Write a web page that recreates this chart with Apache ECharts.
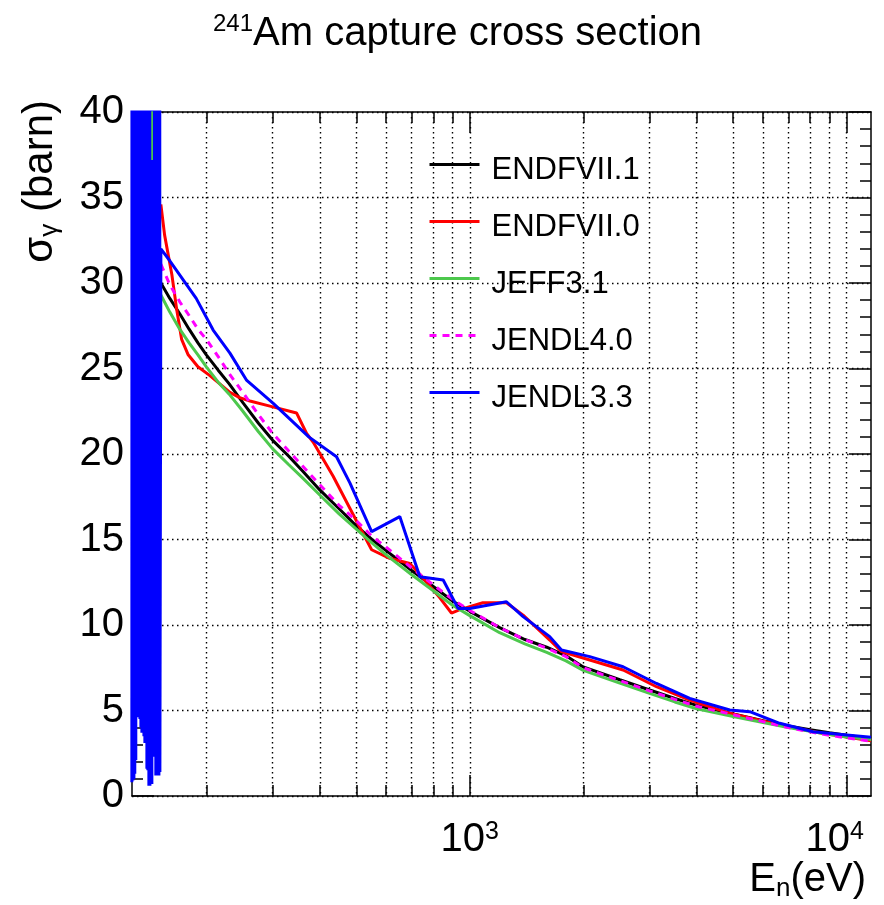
<!DOCTYPE html>
<html>
<head>
<meta charset="utf-8">
<title>241Am capture cross section</title>
<script src="https://cdn.jsdelivr.net/npm/echarts@6/dist/echarts.min.js"></script>
<style>
  html, body { margin: 0; padding: 0; background: #fff; }
  #chart { width: 884px; height: 905px; }
</style>
</head>
<body>
<div id="chart"></div>
<script>
// axis range (eV / barn)
const xMin = 127;
const xMax = 11600;
const yMin = 0;
const yMax = 40;
const yStep = 5;
const xMajorTicks = [1000, 10000];
const xMinorTicks = [200, 300, 400, 500, 600, 700, 800, 900, 2000, 3000, 4000, 5000, 6000, 7000, 8000, 9000];

// common energy grid (eV) for the smooth evaluations
const energy = [151.5, 160, 170, 180, 190, 200, 215, 230, 250, 275, 300, 330, 360, 400, 450, 500, 550, 600, 700, 800, 900,
  1000, 1200, 1400, 1600, 1800, 2000, 2500, 3000, 3500, 4000, 5000, 6000, 7000, 8000, 9000, 10000, 11600];
const endf71 = [30.0, 29.1, 28.2, 27.3, 26.5, 25.8, 24.9, 24.1, 23.0, 21.8, 20.8, 19.9, 19.0, 17.9, 16.8, 15.8, 15.0, 14.35, 13.2, 12.25, 11.4,
  10.8, 9.85, 9.15, 8.7, 8.2, 7.55, 6.8, 6.2, 5.7, 5.3, 4.8, 4.4, 4.1, 3.88, 3.7, 3.55, 3.35];
const jeff31 = [29.3, 28.3, 27.3, 26.5, 25.8, 25.1, 24.2, 23.5, 22.5, 21.3, 20.3, 19.4, 18.6, 17.6, 16.5, 15.6, 14.8, 14.1, 12.95, 12.0, 11.15,
  10.55, 9.55, 8.9, 8.4, 7.9, 7.35, 6.6, 6.0, 5.5, 5.1, 4.65, 4.3, 4.0, 3.78, 3.6, 3.45, 3.3];
const jendl40 = [31.1, 29.9, 28.9, 28.1, 27.3, 26.7, 25.7, 24.7, 23.6, 22.3, 21.2, 20.2, 19.3, 18.2, 17.0, 16.1, 15.2, 14.55, 13.35, 12.35, 11.5,
  10.85, 9.85, 9.15, 8.65, 8.15, 7.5, 6.75, 6.15, 5.65, 5.25, 4.75, 4.35, 4.0, 3.75, 3.55, 3.4, 3.2];

// ENDF/B-VII.0 (own energy points)
const endf70Energy = [151.5, 155, 162, 167, 172, 179, 190, 204, 231, 245, 261, 295, 347, 369, 384, 434, 511, 549, 613, 693, 728, 832, 894, 941,
  1083, 1251, 1385, 1630, 1751, 2081, 2551, 3128, 3833, 4895, 6642, 8600, 10000, 11600];
const endf70 = [34.6, 32.8, 30.5, 28.4, 26.7, 25.8, 25.1, 24.6, 23.6, 23.3, 23.1, 22.8, 22.4, 21.2, 20.7, 18.7, 15.7, 14.4, 13.9, 13.6, 13.1, 11.6, 10.7, 10.9,
  11.3, 11.3, 10.58, 9.12, 8.44, 7.95, 7.37, 6.39, 5.61, 4.84, 4.15, 3.67, 3.45, 3.23];

// JENDL3.3: resolved resonances below ~150 eV, then the smooth part
const jendl33ResEnergy = [126.9, 127.3, 127.7, 128.1, 128.5, 128.9, 129.2, 129.6, 130.0, 130.4, 130.8, 131.2, 131.6, 132.0, 132.4,
  132.9, 133.3, 133.7, 134.1, 134.5, 134.9, 135.3, 135.7, 136.1, 136.6, 137.0, 137.4, 137.8, 138.2, 138.7, 139.1, 139.5, 139.9,
  140.4, 140.8, 141.2, 141.7, 142.1, 142.5, 143.0, 143.4, 143.8, 144.3, 144.7, 145.2, 145.6, 146.0, 146.5, 146.9, 147.4, 147.8,
  148.3, 148.7, 149.2, 149.7, 150.1, 150.6];
const jendl33Res = [0.8, 420, 0.9, 180, 1.0, 650, 1.3, 240, 2.1, 900, 5.0, 310, 5.1, 150, 4.6, 560, 4.5, 270, 4.0, 820, 3.7, 190,
  3.7, 480, 3.5, 130, 3.1, 700, 3.1, 260, 1.6, 380, 1.5, 950, 0.6, 210, 0.6, 520, 0.7, 340, 0.7, 160, 2.3, 610, 2.3, 290, 2.4, 450,
  1.2, 860, 1.2, 230, 1.3, 390, 1.2, 170, 1.4];
const jendl33Energy = [151.5, 160, 188, 208.5, 231, 256, 301, 374, 443, 481, 549, 652, 737, 850, 931, 1000, 1251, 1385, 1630, 1751,
  2081, 2551, 3128, 3833, 4895, 5530, 6642, 8140, 10000, 11600];
const jendl33 = [32.0, 31.3, 29.1, 27.25, 25.9, 24.3, 22.96, 21.0, 19.84, 18.3, 15.46, 16.34, 12.82, 12.63, 10.97, 10.97, 11.36, 10.49, 9.32, 8.54,
  8.15, 7.56, 6.58, 5.71, 5.03, 4.93, 4.25, 3.76, 3.57, 3.43];

// JEFF3.1 resonance peak sticking out above the blue band
const jeff31ResEnergy = [143.5, 143.6, 143.7];
const jeff31Res = [37.2, 400, 37.2];

const names = ['ENDFVII.1', 'ENDFVII.0', 'JEFF3.1', 'JENDL4.0', 'JENDL3.3'];
const colors = ['#000000', '#ff0000', '#4dc84d', '#ff00ff', '#0000ff'];

const font = 'Liberation Sans';
const dotted = { color: '#000', width: 1.4, type: [1.5, 3.5] };
const frame = { color: '#000', width: 1.5 };

function pairs(xs, ys) {
  return xs.map((x, i) => [x, ys[i]]);
}

function curve(name, data, color, extra) {
  return Object.assign({
    name: name,
    type: 'line',
    data: data,
    symbol: 'none',
    showSymbol: false,
    clip: true,
    silent: true,
    lineStyle: { color: color, width: 3 },
    itemStyle: { color: color }
  }, extra || {});
}

function xLayer(position, ticks, tickLen, showLine, showGrid, label) {
  return {
    type: 'log',
    logBase: 10,
    min: xMin,
    max: xMax,
    position: position,
    axisLine: { show: showLine, onZero: false, lineStyle: frame },
    axisTick: { show: true, inside: true, length: tickLen, customValues: ticks, lineStyle: frame },
    minorTick: { show: false },
    axisLabel: label || { show: false },
    splitLine: { show: showGrid, lineStyle: dotted },
    minorSplitLine: { show: false }
  };
}

function yLayer(position, withLabels) {
  return {
    type: 'value',
    min: yMin,
    max: yMax,
    interval: yStep,
    position: position,
    axisLine: { show: true, onZero: false, lineStyle: frame },
    axisTick: { show: true, inside: true, length: 22, lineStyle: frame },
    minorTick: { show: true, splitNumber: 5, length: 11, lineStyle: frame },
    axisLabel: withLabels
      ? { show: true, fontSize: 40, fontFamily: font, color: '#000', margin: 8 }
      : { show: false },
    splitLine: { show: withLabels, lineStyle: dotted },
    minorSplitLine: { show: false }
  };
}

const xLabel = {
  show: true,
  customValues: xMajorTicks,
  margin: 24,
  formatter: function (v) {
    const p = Math.round(Math.log10(v));
    return '{b|10}{s|' + p + '}' + (v >= 10000 ? '{p| }' : '');
  },
  rich: {
    b: { fontSize: 40, fontFamily: font, color: '#000', lineHeight: 40 },
    s: { fontSize: 25, fontFamily: font, color: '#000', lineHeight: 25, verticalAlign: 'top' },
    p: { fontSize: 24, width: 24 }
  }
};

const myChart = echarts.init(document.getElementById('chart'));
const option = {
  animation: false,
  backgroundColor: '#ffffff',
  title: {
    text: '{s|241}{t|Am capture cross section}',
    left: 213,
    top: 12,
    padding: 0,
    textStyle: {
      fontWeight: 'normal',
      rich: {
        t: { fontSize: 40, fontFamily: font, color: '#000', lineHeight: 44, fontWeight: 'normal' },
        s: { fontSize: 24, fontFamily: font, color: '#000', lineHeight: 24, verticalAlign: 'top', fontWeight: 'normal' }
      }
    }
  },
  legend: {
    data: names,
    orient: 'vertical',
    left: 428,
    top: 143,
    padding: 0,
    itemWidth: 50,
    itemHeight: 14,
    itemGap: 14,
    selectedMode: false,
    itemStyle: { opacity: 0, borderWidth: 0 },
    lineStyle: { width: 3 },
    // names sit a little lower than the line samples, as in ROOT
    formatter: function (name) { return '{n|' + name + '}'; },
    textStyle: {
      fontSize: 31,
      fontFamily: font,
      color: '#000',
      rich: {
        n: { fontSize: 31, fontFamily: font, color: '#000', lineHeight: 34, padding: [12, 0, 0, 7] }
      }
    }
  },
  grid: { left: 132, right: 13, top: 112, bottom: 109, containLabel: false, outerBoundsMode: 'none' },
  xAxis: [
    xLayer('bottom', xMajorTicks, 21, true, true, xLabel),
    xLayer('bottom', xMinorTicks, 11, false, true),
    xLayer('top', xMajorTicks, 21, true, false),
    xLayer('top', xMinorTicks, 11, false, false)
  ],
  yAxis: [yLayer('left', true), yLayer('right', false)],
  series: [
    curve(names[0], pairs(energy, endf71), colors[0]),
    curve(names[1], pairs(endf70Energy, endf70), colors[1]),
    curve(names[2], pairs(energy, jeff31), colors[2]),
    curve(names[3], pairs(energy, jendl40), colors[3], { lineStyle: { color: colors[3], width: 3, type: [7, 6] } }),
    curve(names[4], pairs(jendl33ResEnergy, jendl33Res).concat(pairs(jendl33Energy, jendl33)), colors[4]),
    curve('JEFF3.1 resonance', pairs(jeff31ResEnergy, jeff31Res), colors[2], { z: 3, lineStyle: { color: colors[2], width: 1.5 } })
  ],
  graphic: [
    {
      type: 'text',
      x: 40,
      y: 100,
      rotation: Math.PI / 2,
      style: {
        text: '{t|σ}{s|γ}{t| (barn)}',
        align: 'right',
        textAlign: 'right',
        verticalAlign: 'middle',
        textVerticalAlign: 'middle',
        fill: '#000',
        rich: {
          t: { fontSize: 42, fontFamily: font, fill: '#000', lineHeight: 46 },
          s: { fontSize: 26, fontFamily: font, fill: '#000', lineHeight: 26, verticalAlign: 'bottom' }
        }
      }
    },
    {
      type: 'text',
      x: 866,
      y: 880,
      style: {
        text: '{t|E}{s|n}{t|(eV)}',
        align: 'right',
        textAlign: 'right',
        verticalAlign: 'middle',
        textVerticalAlign: 'middle',
        fill: '#000',
        rich: {
          t: { fontSize: 40, fontFamily: font, fill: '#000', lineHeight: 44 },
          s: { fontSize: 26, fontFamily: font, fill: '#000', lineHeight: 26, verticalAlign: 'bottom' }
        }
      }
    }
  ]
};
myChart.setOption(option, true);
window.addEventListener('resize', function () {
  myChart.resize();
});
</script>
</body>
</html>
